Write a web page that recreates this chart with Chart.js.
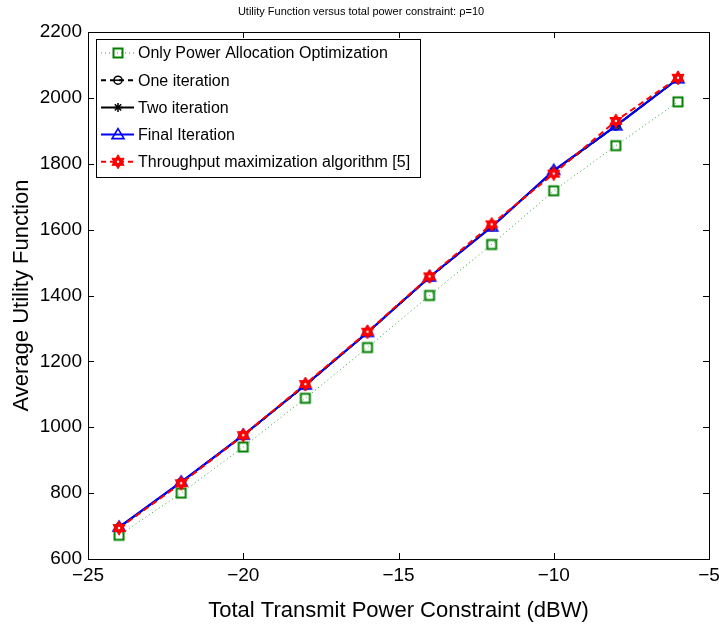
<!DOCTYPE html>
<html>
<head>
<meta charset="utf-8">
<script src="https://cdn.jsdelivr.net/npm/chart.js@4.4.1/dist/chart.umd.min.js"></script>
<style>
  html, body { margin: 0; padding: 0; background: #fff; }
  #wrap { width: 719px; height: 627px; position: relative; }
</style>
</head>
<body>
<div id="wrap"><canvas id="chart"></canvas></div>
<script>
'use strict';

// ── Data ───────────────────────────────────────────────────
const powerDbw        = [-24, -22, -20, -18, -16, -14, -12, -10, -8, -6];
const onlyPowerAlloc  = [672, 800, 940, 1088, 1242, 1400, 1555, 1718, 1855, 1988];
const oneIteration    = [695, 832, 975, 1127, 1288, 1455, 1610, 1776, 1915, 2058];
const twoIteration    = [696, 833, 976, 1128, 1288, 1456, 1609, 1778, 1915, 2058];
const finalIteration  = [697, 834, 976, 1128, 1288, 1456, 1608, 1780, 1915, 2058];
const throughputMax   = [694, 830, 976, 1131, 1290, 1458, 1616, 1770, 1930, 2061];

const seriesNames = [
    'Only Power Allocation Optimization',
    'One iteration',
    'Two iteration',
    'Final Iteration',
    'Throughput maximization algorithm [5]',
];
const xTicks = [-25, -20, -15, -10, -5];
const yTicks = [600, 800, 1000, 1200, 1400, 1600, 1800, 2000, 2200];

const FONT = "'Liberation Sans', Arial, Helvetica, sans-serif";

// ── Marker painters (MATLAB-ish symbols) ───────────────────
const markers = {
    square(ctx, x, y) {
        ctx.strokeStyle = '#008000'; ctx.lineWidth = 2;
        ctx.strokeRect(x - 4.5, y - 4.5, 9, 9);
    },
    circleBar(ctx, x, y) {
        ctx.strokeStyle = '#000'; ctx.lineWidth = 1.5;
        ctx.beginPath(); ctx.arc(x, y, 4, 0, Math.PI * 2); ctx.stroke();
        ctx.beginPath(); ctx.moveTo(x - 3, y); ctx.lineTo(x + 3, y); ctx.stroke();
    },
    asterisk(ctx, x, y) {
        ctx.strokeStyle = '#000'; ctx.lineWidth = 1.5;
        const r = 4.5, d = r * 0.7;
        ctx.beginPath();
        ctx.moveTo(x - r, y); ctx.lineTo(x + r, y);
        ctx.moveTo(x, y - r); ctx.lineTo(x, y + r);
        ctx.moveTo(x - d, y - d); ctx.lineTo(x + d, y + d);
        ctx.moveTo(x - d, y + d); ctx.lineTo(x + d, y - d);
        ctx.stroke();
    },
    triangle(ctx, x, y) {
        ctx.strokeStyle = '#0000ff'; ctx.lineWidth = 1.6;
        ctx.beginPath();
        ctx.moveTo(x, y - 6); ctx.lineTo(x + 6, y + 4); ctx.lineTo(x - 6, y + 4);
        ctx.closePath(); ctx.stroke();
    },
    hexagram(ctx, x, y) {
        ctx.fillStyle = '#ff0000'; ctx.strokeStyle = '#ff0000'; ctx.lineWidth = 1;
        const r = 7;
        for (const rot of [-Math.PI / 2, Math.PI / 2]) {
            ctx.beginPath();
            for (let k = 0; k < 3; k++) {
                const a = rot + k * 2 * Math.PI / 3;
                const px = x + r * Math.cos(a), py = y + r * Math.sin(a);
                k ? ctx.lineTo(px, py) : ctx.moveTo(px, py);
            }
            ctx.closePath(); ctx.fill(); ctx.stroke();
        }
        ctx.fillStyle = '#fff';
        ctx.beginPath(); ctx.arc(x, y, 1.2, 0, Math.PI * 2); ctx.fill();
    },
};

const markerCanvas = (paint) => {
    const c = document.createElement('canvas');
    c.width = 20; c.height = 20;
    paint(c.getContext('2d'), 10, 10);
    return c;
};

const styles = [
    { color: '#33a033', width: 1, dash: [1, 3], marker: 'square' },
    { color: '#000000', width: 2, dash: [6, 4], marker: 'circleBar' },
    { color: '#000000', width: 2, dash: [],     marker: 'asterisk' },
    { color: '#0000ff', width: 2, dash: [],     marker: 'triangle' },
    { color: '#ff0000', width: 2, dash: [6, 4], marker: 'hexagram' },
];
const seriesValues = [onlyPowerAlloc, oneIteration, twoIteration, finalIteration, throughputMax];

const datasets = seriesValues.map((vals, i) => ({
    label: seriesNames[i],
    data: powerDbw.map((x, j) => ({ x, y: vals[j] })),
    borderColor: styles[i].color,
    borderWidth: styles[i].width,
    borderDash: styles[i].dash,
    pointStyle: markerCanvas(markers[styles[i].marker]),
    pointRadius: 8,
    pointHoverRadius: 8,
    fill: false,
    tension: 0,
    order: seriesValues.length - 1 - i,
}));

// ── Box, inward ticks, title, legend ───────────────────────
const matlabFrame = {
    id: 'matlabFrame',
    afterDatasetsDraw(chart) {
        const { ctx, chartArea: a, scales: { x, y } } = chart;
        ctx.save();
        ctx.strokeStyle = '#000'; ctx.lineWidth = 1; ctx.setLineDash([]);
        ctx.strokeRect(a.left + 0.5, a.top + 0.5, a.right - a.left, a.bottom - a.top);
        const t = 6;
        ctx.beginPath();
        xTicks.forEach(v => {
            const px = Math.round(x.getPixelForValue(v)) + 0.5;
            ctx.moveTo(px, a.bottom); ctx.lineTo(px, a.bottom - t);
            ctx.moveTo(px, a.top); ctx.lineTo(px, a.top + t);
        });
        yTicks.forEach(v => {
            const py = Math.round(y.getPixelForValue(v)) + 0.5;
            ctx.moveTo(a.left, py); ctx.lineTo(a.left + t, py);
            ctx.moveTo(a.right, py); ctx.lineTo(a.right - t, py);
        });
        ctx.stroke();

        // title
        ctx.fillStyle = '#000';
        ctx.font = `11px ${FONT}`;
        ctx.textAlign = 'center'; ctx.textBaseline = 'middle';
        ctx.fillText('Utility Function versus total power constraint: \u03c1=10', 361, 12);

        // legend box
        const lx = a.left + 8, ly = a.top + 7, lw = 324, lh = 138, rowH = 27.2;
        ctx.fillStyle = '#fff';
        ctx.fillRect(lx, ly, lw, lh);
        ctx.strokeRect(lx + 0.5, ly + 0.5, lw, lh);
        ctx.font = `16px ${FONT}`;
        ctx.textAlign = 'left';
        styles.forEach((s, i) => {
            const ry = ly + 14 + i * rowH;
            ctx.strokeStyle = s.color; ctx.lineWidth = s.width;
            ctx.setLineDash(s.dash.length ? (i === 0 ? [1, 3] : [5, 4]) : []);
            ctx.beginPath(); ctx.moveTo(lx + 5, ry); ctx.lineTo(lx + 38, ry); ctx.stroke();
            ctx.setLineDash([]);
            markers[s.marker](ctx, lx + 22, ry);
            ctx.fillStyle = '#000';
            ctx.fillText(seriesNames[i], lx + 42, ry + 1);
        });
        ctx.restore();
    },
};

const tickFont = { family: FONT, size: 19 };
const minus = v => String(v).replace('-', '\u2212');

new Chart(document.getElementById('chart'), {
    type: 'line',
    data: { datasets },
    options: {
        responsive: true,
        maintainAspectRatio: false,
        animation: false,
        layout: { padding: { top: 32, right: 7, left: 0, bottom: 0 } },
        plugins: { legend: { display: false }, title: { display: false }, tooltip: { enabled: false } },
        scales: {
            x: {
                type: 'linear', min: -25, max: -5,
                afterBuildTicks: s => { s.ticks = xTicks.map(value => ({ value })); },
                afterFit: s => { s.height = 68; s.paddingLeft = 0; s.paddingRight = 0; },
                grid: { display: false, drawTicks: false },
                border: { display: false },
                ticks: { color: '#000', font: tickFont, padding: 5, maxRotation: 0, callback: minus },
                title: { display: true, text: 'Total Transmit Power Constraint (dBW)', color: '#000',
                         font: { family: FONT, size: 22 }, padding: { top: 4, bottom: 3 } },
            },
            y: {
                type: 'linear', min: 600, max: 2200,
                afterBuildTicks: s => { s.ticks = yTicks.map(value => ({ value })); },
                afterFit: s => { s.width = 88; s.paddingTop = 0; s.paddingBottom = 0; },
                grid: { display: false, drawTicks: false },
                border: { display: false },
                ticks: { color: '#000', font: tickFont, padding: 6, callback: v => String(v) },
                title: { display: true, text: 'Average Utility Function', color: '#000',
                         font: { family: FONT, size: 22 }, padding: { top: 9, bottom: 0 } },
            },
        },
    },
    plugins: [matlabFrame],
});
</script>
</body>
</html>
